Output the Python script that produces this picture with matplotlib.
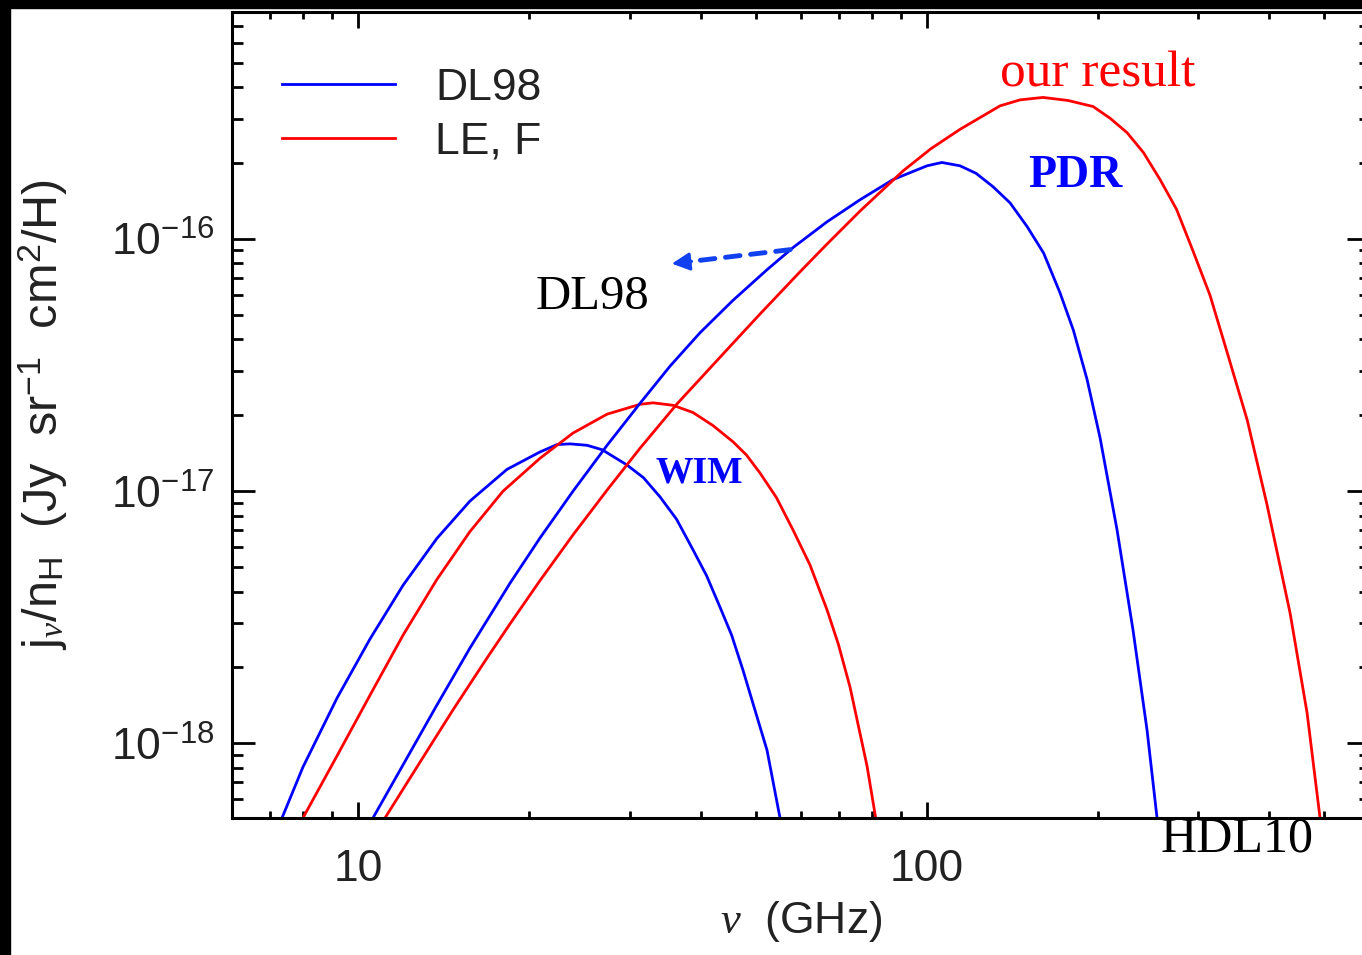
import matplotlib
matplotlib.use('Agg')
import matplotlib.pyplot as plt
from matplotlib.patches import Rectangle
from matplotlib.ticker import LogLocator, NullFormatter, FuncFormatter

plt.rcParams['font.family'] = ['Liberation Sans', 'DejaVu Sans']
plt.rcParams['mathtext.fontset'] = 'custom'
plt.rcParams['mathtext.rm'] = 'Liberation Sans'
plt.rcParams['mathtext.it'] = 'Liberation Serif:italic'

# frequency in GHz, emissivity j_nu/n_H in Jy sr^-1 cm^2 / H
wim_dl98_nu = [7.34, 7.99, 9.17, 10.48, 11.99, 13.75, 15.72, 18.26, 20.87, 22.36,
               23.57, 25.26, 26.84, 29.69, 31.75, 33.94, 36.29, 38.80, 40.99, 43.27,
               45.35, 47.50, 52.35, 55.18]
wim_dl98_j = [5.06e-19, 8.05e-19, 1.51e-18, 2.59e-18, 4.24e-18, 6.50e-18, 9.14e-18,
              1.22e-17, 1.43e-17, 1.53e-17, 1.54e-17, 1.52e-17, 1.46e-17, 1.27e-17,
              1.13e-17, 9.49e-18, 7.74e-18, 5.85e-18, 4.62e-18, 3.47e-18, 2.69e-18,
              1.95e-18, 9.40e-19, 5.06e-19]

wim_lef_nu = [7.99, 9.17, 10.48, 11.99, 13.75, 15.72, 17.97, 20.87, 23.86, 27.39,
              31.30, 32.99, 35.78, 38.80, 42.06, 45.61, 48.18, 50.89, 54.4, 58.16,
              62.3, 66.77, 69.9, 73.28, 78.50, 81.3]
wim_lef_j = [5.06e-19, 8.91e-19, 1.55e-18, 2.69e-18, 4.47e-18, 6.92e-18, 1.00e-17,
             1.35e-17, 1.70e-17, 2.02e-17, 2.21e-17, 2.24e-17, 2.19e-17, 2.05e-17,
             1.82e-17, 1.57e-17, 1.39e-17, 1.18e-17, 9.42e-18, 7.02e-18, 5.10e-18,
             3.38e-18, 2.47e-18, 1.67e-18, 8.13e-19, 5.06e-19]

pdr_dl98_nu = [10.61, 11.99, 13.75, 15.72, 18.49, 20.87, 23.86, 27.39, 31.30, 35.34,
               39.92, 45.61, 52.35, 58.16, 66.77, 76.3, 87.23, 100.1, 106.3, 114.4,
               122.1, 130.8, 140.1, 150.1, 160.5, 171.5, 181.1, 191.4, 201.7, 216.1,
               230.5, 244.0, 254.1]
pdr_dl98_j = [5.06e-19, 8.23e-19, 1.42e-18, 2.39e-18, 4.32e-18, 6.52e-18, 1.00e-17,
              1.52e-17, 2.23e-17, 3.13e-17, 4.25e-17, 5.71e-17, 7.55e-17, 9.24e-17,
              1.17e-16, 1.43e-16, 1.72e-16, 1.95e-16, 2.01e-16, 1.95e-16, 1.82e-16,
              1.61e-16, 1.39e-16, 1.12e-16, 8.79e-17, 6.12e-17, 4.34e-17, 2.77e-17,
              1.63e-17, 7.02e-18, 2.82e-18, 1.13e-18, 5.06e-19]

pdr_lef_nu = [11.14, 12.84, 14.68, 16.84, 18.49, 20.87, 23.86, 27.39, 31.30, 36.37,
              45.61, 50.89, 59.84, 66.77, 76.3, 90.8, 101.7, 114.4, 134.5, 145.9,
              160.1, 177.2, 196.1, 210.1, 225.0, 240.5, 257.2, 275.0, 294.0, 314.9,
              337.4, 366.2, 396.7, 435.5, 466.6, 491.7]
pdr_lef_j = [5.06e-19, 8.43e-19, 1.36e-18, 2.18e-18, 2.98e-18, 4.42e-18, 6.71e-18,
             1.01e-17, 1.48e-17, 2.22e-17, 3.86e-17, 5.04e-17, 7.41e-17, 9.55e-17,
             1.29e-16, 1.86e-16, 2.28e-16, 2.72e-16, 3.37e-16, 3.56e-16, 3.64e-16,
             3.54e-16, 3.35e-16, 3.01e-16, 2.64e-16, 2.20e-16, 1.72e-16, 1.31e-16,
             8.95e-17, 5.98e-17, 3.56e-17, 1.91e-17, 8.83e-18, 3.29e-18, 1.32e-18,
             5.06e-19]

x_major = [10, 100]
y_major = [1e-18, 1e-17, 1e-16]

blue = '#0000ff'
red = '#ff0000'
ink = '#222222'

fig = plt.figure(figsize=(13.62, 9.55), dpi=100)
ax = fig.add_axes([232 / 1362, 137 / 955, 1138 / 1362, 806 / 955])

ax.plot(wim_dl98_nu, wim_dl98_j, color=blue, lw=2.0, label='DL98')
ax.plot(wim_lef_nu, wim_lef_j, color=red, lw=2.0, label='LE, F')
ax.plot(pdr_dl98_nu, pdr_dl98_j, color=blue, lw=2.0)
ax.plot(pdr_lef_nu, pdr_lef_j, color=red, lw=2.0)

ax.set_xscale('log')
ax.set_yscale('log')
ax.set_xlim(5.995, 602)
ax.set_ylim(5.06e-19, 7.94e-16)

ax.set_xticks(x_major)
ax.set_yticks(y_major)
ax.xaxis.set_major_formatter(FuncFormatter(lambda v, p: f'{v:g}'))
ax.xaxis.set_minor_locator(LogLocator(base=10, subs=range(2, 10), numticks=20))
ax.yaxis.set_minor_locator(LogLocator(base=10, subs=range(2, 10), numticks=20))
ax.xaxis.set_minor_formatter(NullFormatter())
ax.yaxis.set_minor_formatter(NullFormatter())

for s in ax.spines.values():
    s.set_linewidth(2.2)
ax.tick_params(which='both', direction='in', top=True, right=True, width=2.0,
               labelsize=32, labelcolor=ink)
ax.tick_params(axis='x', which='major', length=11.5, pad=22)
ax.tick_params(axis='x', which='minor', length=5)
ax.tick_params(axis='y', which='major', length=16.5, pad=13)
ax.tick_params(axis='y', which='minor', length=8)

ax.set_xlabel(r'$\nu$  (GHz)', fontsize=32, color=ink)
ax.xaxis.set_label_coords(0.5, -0.100)
ax.set_ylabel(r'j$_\nu$/n$_\mathrm{H}$  (Jy  sr$^{-1}$  cm$^2$/H)', fontsize=35, color=ink)
ax.yaxis.set_label_coords(-0.142, 0.5)

leg = ax.legend(loc='upper left', bbox_to_anchor=(0.0439, 0.931), frameon=False,
                fontsize=32, handlelength=2.55, handletextpad=0.9, labelspacing=0.28,
                borderpad=0, borderaxespad=0)
for t in leg.get_texts():
    t.set_color(ink)

ax.text(134.5, 4.02e-16, 'our result', color=red, fontsize=37,
        family='Liberation Serif', ha='left', va='baseline')
ax.text(150.7, 1.61e-16, 'PDR', color=blue, fontsize=33, fontweight='bold',
        family='Liberation Serif', ha='left', va='baseline')
ax.text(33.26, 1.08e-17, 'WIM', color=blue, fontsize=27, fontweight='bold',
        family='Liberation Serif', ha='left', va='baseline')
ax.text(20.54, 5.28e-17, 'DL98', color='black', fontsize=35,
        family='Liberation Serif', ha='left', va='baseline')
ax.text(257.2, 3.71e-19, 'HDL10', color='black', fontsize=36,
        family='Liberation Serif', ha='left', va='baseline', clip_on=False)

# dashed pointer towards the DL98 label
arrow_blue = '#1040f0'
ax.annotate('', xy=(38.0, 8.12e-17), xytext=(57.5, 9.07e-17),
            arrowprops=dict(arrowstyle='-', color=arrow_blue, lw=3.5,
                            linestyle=(0, (3, 2.2)), shrinkA=0, shrinkB=0))
ax.annotate('', xy=(35.6, 7.98e-17), xytext=(38.6, 8.15e-17),
            arrowprops=dict(arrowstyle='-|>,head_length=1.1,head_width=0.55',
                            color=arrow_blue, lw=2, shrinkA=0, shrinkB=0))

# black frame of the original screenshot
fig.add_artist(Rectangle((0, 0), 10 / 1362, 1, transform=fig.transFigure,
                         color='black', zorder=10))
fig.add_artist(Rectangle((0, 1 - 8 / 955), 1, 8 / 955, transform=fig.transFigure,
                         color='black', zorder=10))

fig.savefig('out.png', dpi=100)
